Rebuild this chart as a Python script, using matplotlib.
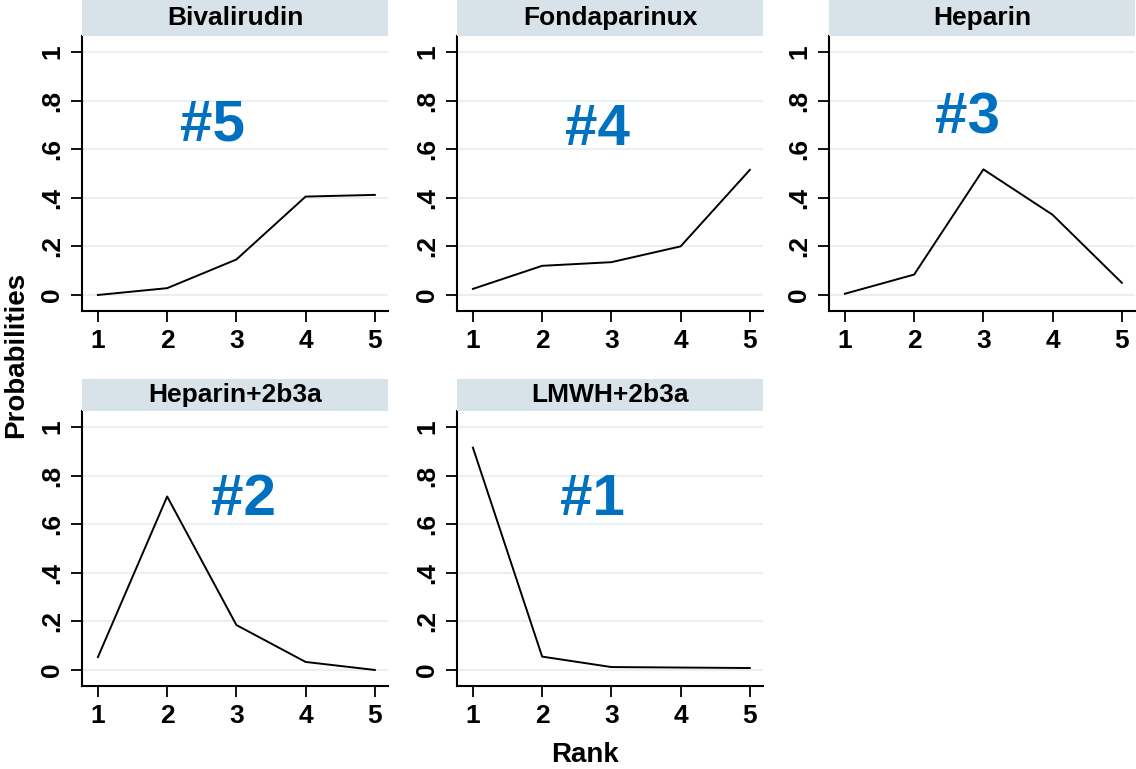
import numpy as np
import matplotlib.pyplot as plt

# data
ranks = [1, 2, 3, 4, 5]
treatments = ["Bivalirudin", "Fondaparinux", "Heparin", "Heparin+2b3a", "LMWH+2b3a"]
bivalirudin = [0.0, 0.028, 0.146, 0.405, 0.412]
fondaparinux = [0.025, 0.12, 0.135, 0.2, 0.515]
heparin = [0.005, 0.084, 0.517, 0.33, 0.05]
heparin_2b3a = [0.053, 0.714, 0.185, 0.033, 0.0]
lmwh_2b3a = [0.915, 0.055, 0.012, 0.01, 0.008]
labels = ["#5", "#4", "#3", "#2", "#1"]
series = [bivalirudin, fondaparinux, heparin, heparin_2b3a, lmwh_2b3a]

plt.rcParams['font.family'] = ['Liberation Sans', 'DejaVu Sans']

fig = plt.figure(figsize=(11.36, 7.69), dpi=100)
W, H = 1136.0, 769.0
lefts = [82, 457, 829]
rows = [(36, 311), (411, 686)]   # top, bottom in px
hdr_h = [36, 32]
label_pos = [(0.428, 0.676), (0.458, 0.658), (0.454, 0.70), (0.529, 0.676), (0.444, 0.676)]

for i, name in enumerate(treatments):
    r, c = divmod(i, 3)
    top, bot = rows[r]
    ax = fig.add_axes([lefts[c] / W, 1 - bot / H, 306 / W, (bot - top) / H])
    ax.plot(ranks, series[i], color='black', lw=1.4)
    ax.set_xlim(0.77, 5.19)
    ax.set_ylim(-0.066, 1.066)
    ax.set_xticks(ranks)
    ax.set_yticks([0, 0.2, 0.4, 0.6, 0.8, 1.0])
    ax.set_yticklabels(["0", ".2", ".4", ".6", ".8", "1"], rotation=90, va='center')
    ax.grid(axis='y', color='#e8f0f2', lw=1.5)
    ax.set_axisbelow(True)
    for s in ['top', 'right']:
        ax.spines[s].set_visible(False)
    for s in ['left', 'bottom']:
        ax.spines[s].set_linewidth(1.5)
    ax.tick_params(direction='out', length=8, width=1.3, labelsize=19, pad=5)
    for t in ax.get_xticklabels() + ax.get_yticklabels():
        t.set_fontweight('bold')
    # header strip
    hx = fig.add_axes([lefts[c] / W, 1 - top / H, 306 / W, hdr_h[r] / H])
    hx.set_facecolor('#d8e3e9')
    hx.set_xticks([]); hx.set_yticks([])
    for s in hx.spines.values():
        s.set_visible(False)
    hx.text(0.5, 0.5, name, ha='center', va='center', fontsize=19,
            fontweight='bold', transform=hx.transAxes)
    lx, ly = label_pos[i]
    ax.text(lx, ly, labels[i], transform=ax.transAxes, ha='center', va='center',
            fontsize=42, fontweight='bold', color='#0070c0')

fig.text(16 / W, 1 - 355 / H, "Probabilities", rotation=90, ha='center', va='center',
         fontsize=20, fontweight='bold')
fig.text(585 / W, 1 - 755 / H, "Rank", ha='center', va='center', fontsize=20, fontweight='bold')

fig.savefig("out.png", dpi=100, facecolor='white')
